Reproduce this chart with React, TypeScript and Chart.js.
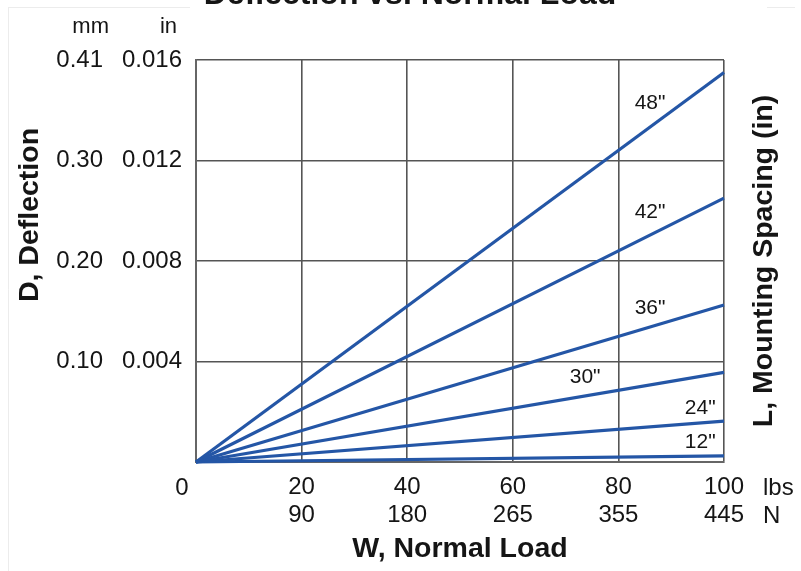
import { useEffect, useRef } from 'react';
import { Chart, registerables } from 'chart.js';

Chart.register(...registerables);

// ---- data ----
const loadLbs = [0, 100];
const spacingLabels = ['48"', '42"', '36"', '30"', '24"', '12"'];
const defl48 = [0, 0.0155];
const defl42 = [0, 0.0105];
const defl36 = [0, 0.00625];
const defl30 = [0, 0.00357];
const defl24 = [0, 0.00163];
const defl12 = [0, 0.00024];
const seriesValues = [defl48, defl42, defl36, defl30, defl24, defl12];
const xTickLbs = ['0', '20', '40', '60', '80', '100'];
const xTickN = ['', '90', '180', '265', '355', '445'];
const yTickIn = ['', '0.004', '0.008', '0.012', '0.016'];
const yTickMm = ['', '0.10', '0.20', '0.30', '0.41'];

// label anchors (data space) for the curve labels
const labelAnchors = [
  { x: 86, y: 0.01429 },
  { x: 86, y: 0.00995 },
  { x: 86, y: 0.00613 },
  { x: 73.7, y: 0.00338 },
  { x: 95.5, y: 0.00215 },
  { x: 95.5, y: 0.0008 },
];

const FONT = '"Liberation Sans", Arial, Helvetica, sans-serif';
const BLUE = '#2456a6';
const GRID = '#555555';
const TEXT = '#151515';

const overlay = {
  id: 'overlay',
  beforeDraw(chart: any) {
    const { ctx } = chart;
    ctx.save();
    ctx.fillStyle = '#ffffff';
    ctx.fillRect(0, 0, chart.width, chart.height);
    ctx.strokeStyle = '#ececec';
    ctx.lineWidth = 1;
    ctx.beginPath();
    ctx.moveTo(8.5, 7.5);
    ctx.lineTo(8.5, chart.height);
    ctx.moveTo(8, 7.5);
    ctx.lineTo(190, 7.5);
    ctx.moveTo(767, 7.5);
    ctx.lineTo(795, 7.5);
    ctx.stroke();
    ctx.restore();
  },
  afterDraw(chart: any) {
    const { ctx, scales } = chart;
    const xs = scales.x;
    const ys = scales.y;
    ctx.save();
    ctx.fillStyle = TEXT;

    // main title (mostly cut off at the top)
    ctx.font = `bold 32px ${FONT}`;
    ctx.textAlign = 'center';
    ctx.textBaseline = 'alphabetic';
    ctx.fillText('Deflection vs. Normal Load', 410, 4);

    // unit headers
    ctx.font = `22px ${FONT}`;
    ctx.textAlign = 'right';
    ctx.fillText('mm', 109, 33);
    ctx.fillText('in', 177, 33);

    // x units + zero label
    ctx.font = `24px ${FONT}`;
    ctx.textBaseline = 'middle';
    ctx.textAlign = 'left';
    ctx.fillText('lbs', 763, 488);
    ctx.fillText('N', 763, 516);
    ctx.textAlign = 'center';
    ctx.fillText(xTickLbs[0], xs.getPixelForValue(0) - 14, 488);

    // axis titles rotated
    ctx.font = `bold 28.5px ${FONT}`;
    ctx.save();
    ctx.translate(30, 215);
    ctx.rotate(-Math.PI / 2);
    ctx.textAlign = 'center';
    ctx.textBaseline = 'middle';
    ctx.fillText('D, Deflection', 0, 0);
    ctx.restore();

    ctx.save();
    ctx.translate(764, (chart.chartArea.top + chart.chartArea.bottom) / 2);
    ctx.rotate(-Math.PI / 2);
    ctx.textAlign = 'center';
    ctx.textBaseline = 'middle';
    ctx.fillText('L, Mounting Spacing (in)', 0, 0);
    ctx.restore();

    // curve labels
    ctx.font = `21px ${FONT}`;
    ctx.textAlign = 'center';
    ctx.textBaseline = 'middle';
    spacingLabels.forEach((lab, i) => {
      const a = labelAnchors[i];
      ctx.fillText(lab, xs.getPixelForValue(a.x), ys.getPixelForValue(a.y));
    });
    ctx.restore();
  },
};

export default function App() {
  const ref = useRef<HTMLCanvasElement | null>(null);
  useEffect(() => {
    if (!ref.current) return;
    const datasets = seriesValues.map((vals, i) => ({
      label: spacingLabels[i],
      data: loadLbs.map((x, j) => ({ x, y: vals[j] })),
      borderColor: BLUE,
      backgroundColor: BLUE,
      borderWidth: 3.2,
      pointRadius: 0,
      tension: 0,
      clip: false as any,
    }));
    const chart = new Chart(ref.current, {
      type: 'line',
      data: { datasets },
      plugins: [overlay],
      options: {
        responsive: false,
        animation: false,
        devicePixelRatio: 1,
        layout: { padding: { top: 60, right: 77, left: 0, bottom: 0 } },
        plugins: {
          legend: { display: false },
          tooltip: { enabled: false },
          title: { display: false },
        },
        scales: {
          x: {
            type: 'linear',
            position: 'bottom',
            min: 0,
            max: 100,
            ticks: {
              stepSize: 20,
              padding: 11,
              color: TEXT,
              maxRotation: 0,
              autoSkip: false,
              font: { family: FONT, size: 24, lineHeight: 1.17 },
              callback: (_v: any, i: number) => (i === 0 ? ['', ''] : [xTickLbs[i], xTickN[i]]),
            },
            grid: { color: GRID, lineWidth: 1.6, drawTicks: false },
            border: { color: '#666', width: 2 },
            title: {
              display: true,
              text: 'W, Normal Load',
              color: TEXT,
              font: { family: FONT, size: 28.5, weight: 'bold' },
              padding: { top: 0, bottom: 5 },
            },
            afterFit: (s: any) => { s.height = 109; },
          },
          y: {
            type: 'linear',
            position: 'left',
            weight: 0,
            min: 0,
            max: 0.016,
            ticks: {
              stepSize: 0.004,
              padding: 14,
              color: TEXT,
              font: { family: FONT, size: 24 },
              callback: (_v: any, i: number) => yTickIn[i],
            },
            grid: { color: GRID, lineWidth: 1.6, drawTicks: false },
            border: { color: '#666', width: 2 },
            afterFit: (s: any) => { s.width = 86; },
          },
          ymm: {
            type: 'linear',
            position: 'left',
            weight: 1,
            min: 0,
            max: 0.016,
            ticks: {
              stepSize: 0.004,
              padding: 7,
              color: TEXT,
              font: { family: FONT, size: 24 },
              callback: (_v: any, i: number) => yTickMm[i],
            },
            grid: { display: false, drawTicks: false },
            border: { display: false },
            afterFit: (s: any) => { s.width = 110; },
          },
        },
      } as any,
    });
    return () => chart.destroy();
  }, []);
  return (
    <div style={{ position: 'absolute', left: 0, top: 0, width: 801, height: 571, background: '#fff' }}>
      <canvas ref={ref} width={801} height={571} style={{ display: 'block' }} />
    </div>
  );
}
